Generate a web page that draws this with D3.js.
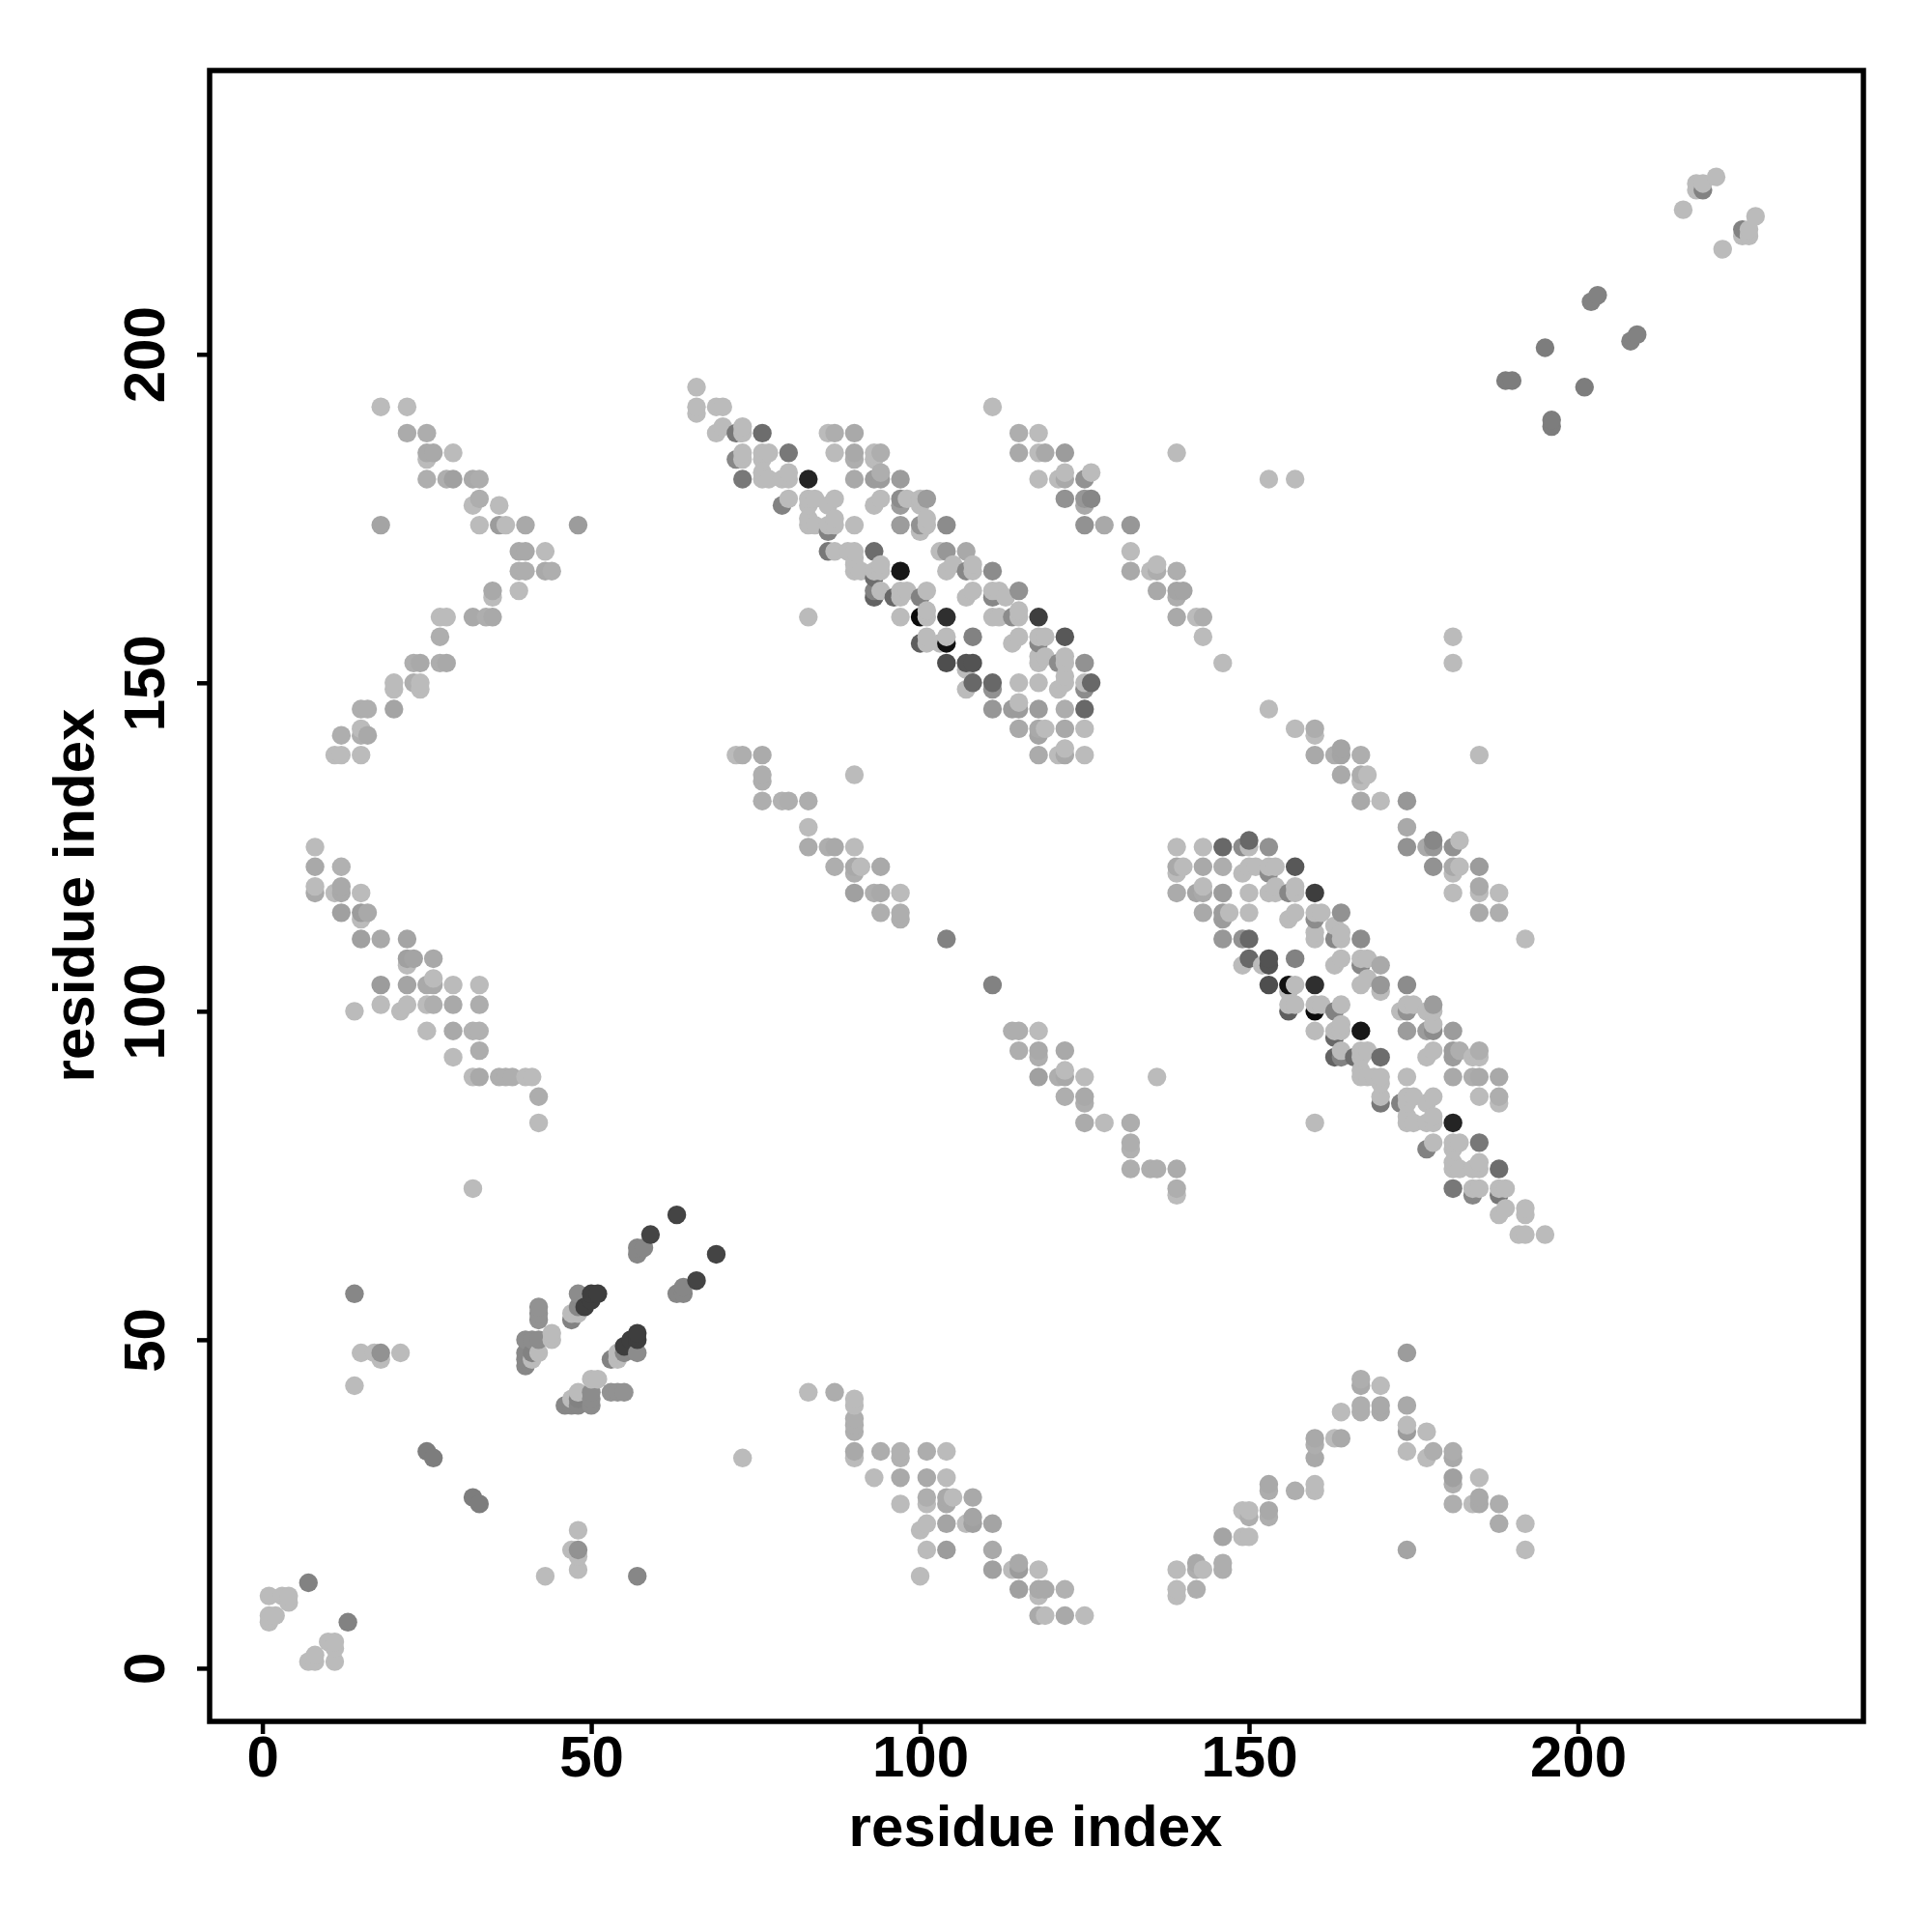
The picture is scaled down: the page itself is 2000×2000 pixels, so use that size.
<!DOCTYPE html>
<html><head><meta charset="utf-8">
<script src="https://cdn.jsdelivr.net/npm/d3@7"></script>
<style>html,body{margin:0;padding:0;background:#fff}svg{display:block}</style>
</head><body><svg id="c" width="2000" height="2000"></svg>
<script>
// Each contact: [residue i, residue j, grey level]. The map is symmetric, so (i,j) is also drawn as (j,i).
const L = 187; // faintest level
const tickValues = [0, 50, 100, 150, 200];
const axisLabel = "residue index";

const localN = [[1,7,L],[1,8,L],[2,8,L],[1,11,L],[3,11,L],[4,11,L],[4,10,L],[7,13,125]];
const localMiddle = [
 [25,33,120],[26,32,120],
 [42,55,140],[42,54,140],[42,53,140],[40,50,135],[41,50,135],[42,50,135],[44,51,L],[44,50,L],[42,48,L],[41,47,L],
 [41,48,125],[40,48,130],[40,47,130],[40,46,130],
 [47,53,125],[47,54,L],[48,54,L],[48,55,130],[48,57,135],[49,55,60],[50,56,60],[50,57,60],[51,57,60],
 [57,63,130],[57,64,130],[58,64,130],[63,69,65],[59,66,65]];
const localC = [
 [189,196,120],[190,196,120],[195,201,120],[202,208,125],[203,209,125],
 [216,222,L],[218,226,L],[219,226,L],[218,225,L],[219,225,125],[221,227,L]];
const isolated = [
 [14,57,130],[15,48,L],[17,48,L],[18,47,L],[18,48,140],[21,48,L],[14,43,L],[14,100,L],[18,174,165],[48,174,150],
 [32,73,L],[104,111,125],[83,160,L],[153,181,L],[157,181,L],[139,185,L],[111,192,L],[90,136,L],[14,57,130],[18,104,150]];
const bandNterm = [
 [18,192,L],[22,192,L],[22,188,172],[25,188,172],[25,185,170],[26,185,170],[25,184,L],[29,185,L],
 [25,181,L],[28,181,L],[29,181,165],[32,181,165],[33,181,L],[33,178,L],[32,177,L],[36,177,L],
 [33,174,L],[36,174,165],[37,174,L],[40,174,170],[39,170,170],[40,170,170],[43,170,L],
 [39,167,L],[40,167,L],[43,167,L],[44,167,L],[39,164,L],[35,164,165],[35,163,L],
 [27,160,L],[28,160,L],[32,160,168],[34,160,L],[35,160,168],[27,157,172],
 [23,153,172],[24,153,172],[27,153,170],[28,153,170],[20,150,172],[20,149,172],[23,150,L],[24,150,L],[24,149,L],
 [20,146,165],[15,146,172],[16,146,172],[15,143,172],[16,142,165],[15,142,172],[12,142,L],
 [15,139,L],[12,139,L],[11,139,L]];
const bandLower = [
 [8,125,L],[8,122,165],[12,122,175],[8,119,L],[8,118,150],[11,118,170],[12,118,160],[12,119,160],[15,118,175],
 [12,115,150],[15,115,150],[16,115,170],[15,114,L],[15,111,155],[18,111,170],[22,111,155],
 [22,108,155],[23,108,155],[22,107,172],[26,108,165],
 [22,104,155],[25,104,170],[26,105,172],[26,104,165],[29,104,L],[33,104,L],
 [18,101,L],[22,101,L],[21,100,L],[25,101,L],[26,101,170],[29,101,165],[33,101,170],
 [25,97,L],[29,97,170],[32,97,175],[33,97,175],[33,94,170],[29,93,L],
 [32,90,175],[33,90,170],[36,90,L],[38,90,L],[40,90,L],[41,90,L],[42,87,175],[42,83,L],
 [83,42,L],[87,42,170],[90,41,L],[90,40,L],[90,38,172],[90,37,172],[90,36,172],[90,33,165],[90,32,L],
 [94,33,170],[97,33,175],[97,32,175],[101,33,170],[104,33,L],
 [93,29,L],[97,29,165],[101,29,165],[104,29,L],[97,25,L],[101,26,172],[101,25,L],[104,26,165],[104,25,165],[105,26,L],[108,26,165],
 [101,22,L],[100,21,L],[104,22,160],[107,22,L],[108,23,160],[108,22,155],[111,22,160],
 [101,18,L],[111,18,165],[100,14,L],[111,15,155],[114,15,L],[115,16,165],[115,15,150],[118,15,L],
 [115,12,155],[118,12,165],[119,12,165],[118,11,L],[122,12,175],[118,8,165],[119,8,L],[122,8,165],[125,8,L]];
const bandMiddle = [
 [72,139,L],[73,139,L],[76,139,170],[76,136,170],[76,135,165],[76,132,172],[79,132,L],[80,132,L],[83,132,170],
 [83,128,172],[83,125,168],[86,125,172],[87,125,165],[90,125,L],[87,122,L],[90,122,172],[91,122,L],[90,121,165],[94,122,170],
 [90,118,155],[93,118,165],[94,118,165],[97,118,L],[94,115,L],[97,115,172],[97,114,L]];
const bandMiddle2 = [
 [114,97,172],[115,97,172],[118,97,L],[115,94,172],[118,94,165],[118,93,172],[122,94,165],
 [118,90,155],[121,90,172],[122,91,L],[122,90,165],[125,90,L],[122,87,172],[125,87,165],[125,86,172],
 [125,83,168],[128,83,L],[132,83,170],[132,80,172],[132,79,175],[132,76,172],[135,76,172],[136,76,172],[139,76,168],[139,73,172],[139,72,L]];
const bandAnti = [
 [115,188,172],[118,188,172],[115,185,L],[118,185,170],[119,185,L],[122,185,160],[118,181,165],
 [121,181,L],[122,181,145],[122,182,165],[125,181,145],[126,182,L],[122,178,140],[125,178,140],[126,178,150],[125,177,135],
 [125,174,150],[128,174,170],[132,174,150],[132,170,165],[132,167,165],[135,167,L],[136,168,L],[139,167,172],
 [136,164,170],[139,164,165],[140,164,L],[139,163,L],[139,160,L],[142,160,L],[143,160,L],[143,157,L],[146,153,L]];
const bandUpper = [
 [139,15,L],[139,12,L],[139,11,L],[142,16,165],[142,15,172],[143,15,L],[142,12,172],[146,16,172],[146,15,172],[146,20,160],
 [149,24,L],[150,24,L],[150,23,172],[149,20,L],[150,20,L],[153,24,165],[153,23,172],[153,28,165],[153,27,170],
 [157,27,172],[160,28,L],[160,27,L],[160,35,165],[160,34,172],[160,32,165],[163,35,L],[164,35,165],[164,39,L],
 [167,44,172],[167,43,165],[167,40,172],[167,39,172],[170,43,L],[170,40,165],[170,39,165],
 [174,40,165],[174,37,L],[174,36,150],[177,36,L],[174,33,L],[178,33,172],[177,32,L],[181,33,170],[181,32,165],
 [181,29,155],[181,28,172],[181,25,172],[184,25,L],[185,26,165],[185,25,165],[185,29,L],[188,25,170],[188,22,168],[192,22,L],[192,18,L],[174,18,160]];
const bandFar = [
 [153,146,L],[157,143,L],[160,143,170],[160,142,L],[160,139,165],[163,139,170],[164,140,160],[164,139,160],[164,136,165],
 [167,139,172],[167,136,170],[167,135,L],[168,136,L],[167,132,165],[170,132,L],[174,132,145],[174,128,165],[174,125,140],
 [177,125,165],[178,125,145],[178,126,130],[181,125,140],[182,126,L],[178,122,140],[181,122,165],[182,122,L],[185,122,150],[181,121,L],
 [181,118,L],[185,119,165],[185,118,L],[188,118,L],[185,115,165],[188,115,172],[192,111,L]];
const betaA = [
 [66,195,L],[66,192,L],[66,191,L],[69,192,L],[70,192,L],[69,188,L],[70,189,L],[72,188,115],[73,189,L],[73,188,L],[76,188,105],
 [72,184,130],[73,185,L],[73,184,L],[76,185,L],[77,185,L],[76,184,L],[80,185,115],
 [73,181,115],[76,182,L],[76,181,L],[77,181,L],[79,181,L],[80,182,L],[80,181,L],[83,181,35],
 [79,177,125],[80,178,L],[83,178,L],[84,178,L],[83,177,L],[87,178,L],[86,177,L],[83,175,L],[83,174,L],[84,174,L],[87,175,L],[86,174,L],[87,174,L],[86,173,125],[90,174,L],
 [86,170,115],[87,170,L],[89,170,L],[90,170,L],[90,169,L],[93,170,105],
 [90,168,L],[90,167,L],[91,167,L],[93,167,L],[94,168,L],[94,167,L],[97,167,22],
 [93,166,105],[93,164,125],[93,163,95],[94,164,L],[96,163,100],[97,164,L],[98,164,L],[97,163,L],[100,163,125],
 [86,188,L],[87,188,172],[90,188,165],[87,185,L],[90,185,165],[90,184,172],[93,185,L],[94,185,172],[93,184,L],
 [90,181,165],[93,181,150],[94,181,150],[94,182,172],[97,181,150],
 [93,177,L],[94,178,L],[97,178,135],[97,177,150],[98,178,L],[100,178,L],[100,177,L],[101,178,150],[97,174,150],[100,174,140],[100,173,L],[101,174,L],[101,175,L]];
const betaB = [
 [104,174,135],[103,170,L],[104,170,145],[107,170,165],[104,167,L],[105,168,L],[107,167,130],[108,167,L],[108,168,L],[111,167,135],
 [108,164,L],[107,163,L],[111,164,L],[112,164,L],[111,163,130],[113,163,L],[115,164,140],
 [111,160,L],[112,160,L],[114,160,135],[115,161,L],[115,160,L],[118,160,60],
 [101,164,L],[101,161,L],[101,160,L],[100,160,10],[104,160,45],[97,160,L],
 [108,157,125],[104,157,L],[104,156,15],[100,156,90],[101,157,L],[101,156,L],[103,156,L],[114,156,L],[115,157,L],[118,157,L],[119,157,L],[118,156,130],[122,157,85],
 [104,153,75],[107,153,80],[108,153,80],[107,152,L],[118,153,L],[118,154,L],[119,154,L],[121,153,135],[122,154,L],[122,153,L],[125,153,140],
 [108,150,100],[107,149,L],[111,150,100],[111,149,140],[115,150,L],[118,150,L],[122,151,L],[122,150,L],[121,149,L],[125,150,L],[126,150,100],[125,149,135],
 [111,146,145],[114,146,150],[115,146,150],[115,147,L],[118,146,150],[122,146,170],[125,146,100],
 [115,143,165],[118,143,165],[119,143,L],[118,142,160],[122,143,165],[125,143,L],[118,139,168],[121,139,L],[122,140,L],[122,139,165],[125,139,L]];

const allContacts = [localN, localMiddle, localC, isolated, bandNterm, bandLower, bandMiddle, bandMiddle2,
  bandAnti, bandUpper, bandFar, betaA, betaB].flat();

const svg = d3.select("#c");
const x = d3.scaleLinear().domain([-8.02, 243.4]).range([217, 1929]);
const y = d3.scaleLinear().domain([-8.1, 243.2]).range([1782, 73]);
const grey = d3.scaleLinear().domain([0, 150, 187, 255]).range(["#000000", "#9c9c9c", "#bbbbbb", "#ffffff"]);

// expand to both triangles, one mark per cell
const cells = new Map();
allContacts.forEach(([a, b, g]) => {
  cells.set(a + "," + b, {x: a, y: b, g});
  cells.set(b + "," + a, {x: b, y: a, g});
});
const points = d3.sort([...cells.values()], (p, q) => d3.ascending(p.x, q.x) || d3.ascending(p.y, q.y));

svg.append("g").selectAll("circle").data(points).join("circle")
  .attr("cx", d => x(d.x)).attr("cy", d => y(d.y)).attr("r", 9.7)
  .attr("fill", d => grey(d.g));

svg.append("rect").attr("x", 217).attr("y", 73).attr("width", 1712).attr("height", 1709)
  .attr("fill", "none").attr("stroke", "#000").attr("stroke-width", 5.5);

const font = "'Liberation Sans', Arial, sans-serif";
const ax = svg.append("g").attr("transform", "translate(0,1782)")
  .call(d3.axisBottom(x).tickValues(tickValues).tickSize(13).tickPadding(16).tickFormat(d3.format("d")));
const ay = svg.append("g").attr("transform", "translate(217,0)")
  .call(d3.axisLeft(y).tickValues(tickValues).tickSize(13).tickPadding(0).tickFormat(d3.format("d")));
[ax, ay].forEach(g => {
  g.select(".domain").remove();
  g.selectAll(".tick line").attr("stroke-width", 4.5).attr("stroke", "#000");
  g.selectAll("text").attr("font-family", font).attr("font-weight", "bold").attr("font-size", 60).attr("fill", "#000");
});
ax.selectAll("text").attr("dy", null).attr("y", 57);
ay.selectAll("text").attr("x", null).attr("dy", null).attr("y", null)
  .attr("text-anchor", "middle")
  .attr("transform", "translate(-47,0) rotate(-90)");

svg.append("text").attr("x", 1072).attr("y", 1911).attr("text-anchor", "middle")
  .attr("font-family", font).attr("font-weight", "bold").attr("font-size", 60).text(axisLabel);
svg.append("text").attr("transform", "translate(97,927) rotate(-90)").attr("text-anchor", "middle")
  .attr("font-family", font).attr("font-weight", "bold").attr("font-size", 60).text(axisLabel);
</script>
</body></html>
